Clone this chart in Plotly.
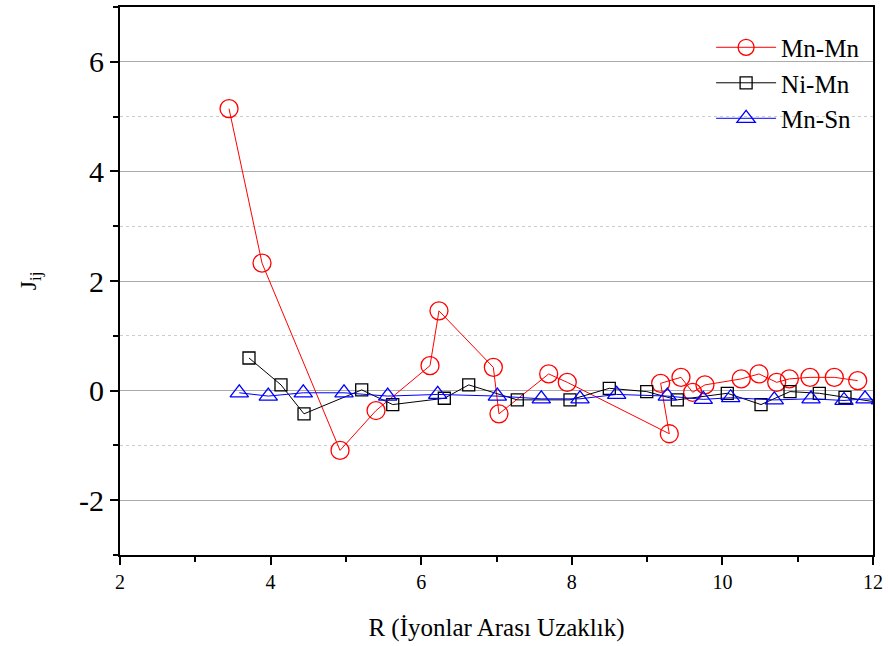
import plotly.graph_objects as go

# Exchange interaction J_ij versus inter-ionic distance R
mnmn_r = [3.448, 3.886, 4.922, 5.400, 6.117, 6.236, 6.958, 7.033, 7.693, 7.940,
          9.295, 9.180, 9.450, 9.605, 9.768, 10.250, 10.486, 10.721, 10.889,
          11.163, 11.486, 11.797]
mnmn_j = [5.145, 2.327, -1.091, -0.364, 0.455, 1.455, 0.424, -0.424, 0.304, 0.151,
          -0.787, 0.133, 0.242, -0.031, 0.104, 0.213, 0.304, 0.151, 0.213,
          0.242, 0.242, 0.182]

nimn_r = [3.713, 4.138, 4.444, 5.210, 5.622, 6.307, 6.631, 7.276, 7.976, 8.498,
          8.995, 9.401, 10.065, 10.513, 10.898, 11.287, 11.628, 12.100]
nimn_j = [0.595, 0.104, -0.424, 0.013, -0.255, -0.140, 0.104, -0.169, -0.169, 0.042,
          -0.018, -0.169, -0.049, -0.255, -0.018, -0.049, -0.122, -0.220]

mnsn_r = [3.584, 3.969, 4.434, 4.975, 5.555, 6.219, 7.011, 7.595, 8.109, 8.596,
          9.268, 9.746, 10.110, 10.689, 11.177, 11.615, 11.894, 12.100]
mnsn_j = [-0.04, -0.10, -0.04, -0.04, -0.10, -0.07, -0.10, -0.15, -0.15, -0.07,
          -0.10, -0.16, -0.13, -0.17, -0.15, -0.18, -0.15, -0.17]

x_ticks = [2, 4, 6, 8, 10, 12]
y_ticks = [-2, 0, 2, 4, 6]

SERIF = "Liberation Serif"

fig = go.Figure()

series = [
    ("Mn-Mn", mnmn_r, mnmn_j, "#ff0000", "circle-open", 18),
    ("Ni-Mn", nimn_r, nimn_j, "#000000", "square-open", 12),
    ("Mn-Sn", mnsn_r, mnsn_j, "#0000ff", "triangle-up-open", 16),
]
for name, xs, ys, color, symbol, size in series:
    fig.add_trace(go.Scatter(
        x=xs, y=ys, name=name, legendgroup=name,
        mode="lines+markers",
        line=dict(color=color, width=1),
        marker=dict(symbol=symbol, size=size, color=color,
                    line=dict(color=color, width=1.3)),
    ))

fig.update_layout(
    width=888, height=646,
    margin=dict(l=120, r=15, t=5, b=91),
    paper_bgcolor="white", plot_bgcolor="white",
    font=dict(family=SERIF, color="black"),
    showlegend=True,
    legend=dict(
        x=0.785, y=0.968, xanchor="left", yanchor="top",
        bgcolor="rgba(0,0,0,0)", borderwidth=0,
        font=dict(family=SERIF, size=25, color="black"),
        tracegroupgap=0, itemwidth=60,
    ),
    xaxis=dict(
        range=[2, 12], tickvals=x_ticks,
        ticktext=[str(v) for v in x_ticks],
        ticks="outside", ticklen=8, tickwidth=2, tickcolor="black",
        minor=dict(tickvals=[3, 5, 7, 9, 11], ticks="outside",
                   ticklen=5, tickwidth=2, tickcolor="black", showgrid=False),
        showline=True, linecolor="black", linewidth=2, mirror=True,
        showgrid=False, zeroline=False,
        tickfont=dict(family=SERIF, size=20, color="black"),
        title=dict(text="R (İyonlar Arası Uzaklık)",
                   font=dict(family=SERIF, size=25, color="black"), standoff=26),
    ),
    yaxis=dict(
        range=[-3, 7], tickvals=y_ticks,
        ticktext=[str(v) for v in y_ticks],
        ticks="outside", ticklen=8, tickwidth=2, tickcolor="black",
        minor=dict(tickvals=[-3, -1, 1, 3, 5, 7], ticks="outside",
                   ticklen=5, tickwidth=2, tickcolor="black",
                   showgrid=True, gridcolor="#cccccc", griddash="dot",
                   gridwidth=1),
        showline=True, linecolor="black", linewidth=2, mirror=True,
        showgrid=True, gridcolor="#aaaaaa", gridwidth=1,
        zeroline=False,
        tickfont=dict(family=SERIF, size=30, color="black"),
        title=dict(text="J<sub>ij</sub>",
                   font=dict(family=SERIF, size=24, color="black"), standoff=36),
    ),
)

fig.write_html("out.html")
